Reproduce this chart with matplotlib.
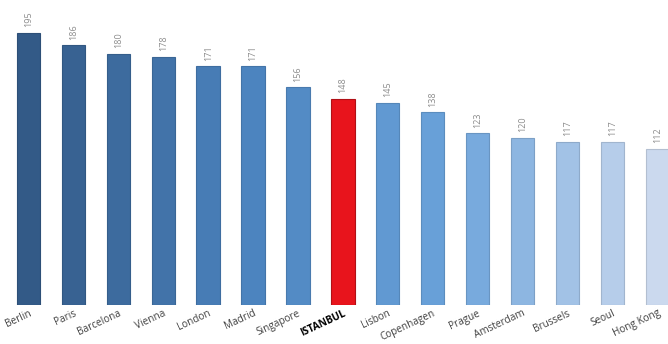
import numpy as np
import matplotlib
matplotlib.use("Agg")
from matplotlib import pyplot as plt
from matplotlib.colors import LinearSegmentedColormap
import matplotlib.transforms as mtransforms

cities = ['Berlin', 'Paris', 'Barcelona', 'Vienna', 'London', 'Madrid', 'Singapore',
          'ISTANBUL', 'Lisbon', 'Copenhagen', 'Prague', 'Amsterdam', 'Brussels',
          'Seoul', 'Hong Kong']
values = [195, 186, 180, 178, 171, 171, 156, 148, 145, 138, 123, 120, 117, 117, 112]
highlight = 'ISTANBUL'

fig = plt.figure(figsize=(6.68, 3.44), dpi=100)
ax = fig.add_axes([0, 39 / 344, 1, 305 / 344])

cmap = LinearSegmentedColormap.from_list('blues', ['#335a87', '#4a82bd', '#6aa2da', '#cbd9ee'])
x = np.arange(len(cities))
colors = []
edges = []
for i, c in enumerate(cities):
    if c == highlight:
        colors.append('#e8141c')
        edges.append('#b01016')
    else:
        col = cmap(i / (len(cities) - 1))
        colors.append(col)
        edges.append(tuple(v * 0.88 for v in col[:3]))

ax.bar(x, values, width=0.52, color=colors, edgecolor=edges, linewidth=0.8)

for xi, v in zip(x, values):
    ax.text(xi, v + 4, str(v), rotation=90, ha='center', va='bottom',
            fontsize=6.5, color='#8c8c8c', family='Open Sans')

ax.set_xlim(-0.635, 14.24)
ax.set_ylim(0, 218.6)
ax.set_xticks(x)
ax.set_xticklabels(cities, rotation=25, ha='right', rotation_mode='anchor',
                   fontsize=7.2, color='#404040', family='Open Sans')
offset = mtransforms.ScaledTranslation(13 / 100, -2 / 100, fig.dpi_scale_trans)
for lbl in ax.get_xticklabels():
    lbl.set_transform(lbl.get_transform() + offset)
    if lbl.get_text() == highlight:
        lbl.set_fontweight('bold')
        lbl.set_color('black')
ax.tick_params(axis='x', length=0, pad=2)
ax.set_yticks([])
for s in ax.spines.values():
    s.set_visible(False)

fig.savefig('out.png', dpi=100)
